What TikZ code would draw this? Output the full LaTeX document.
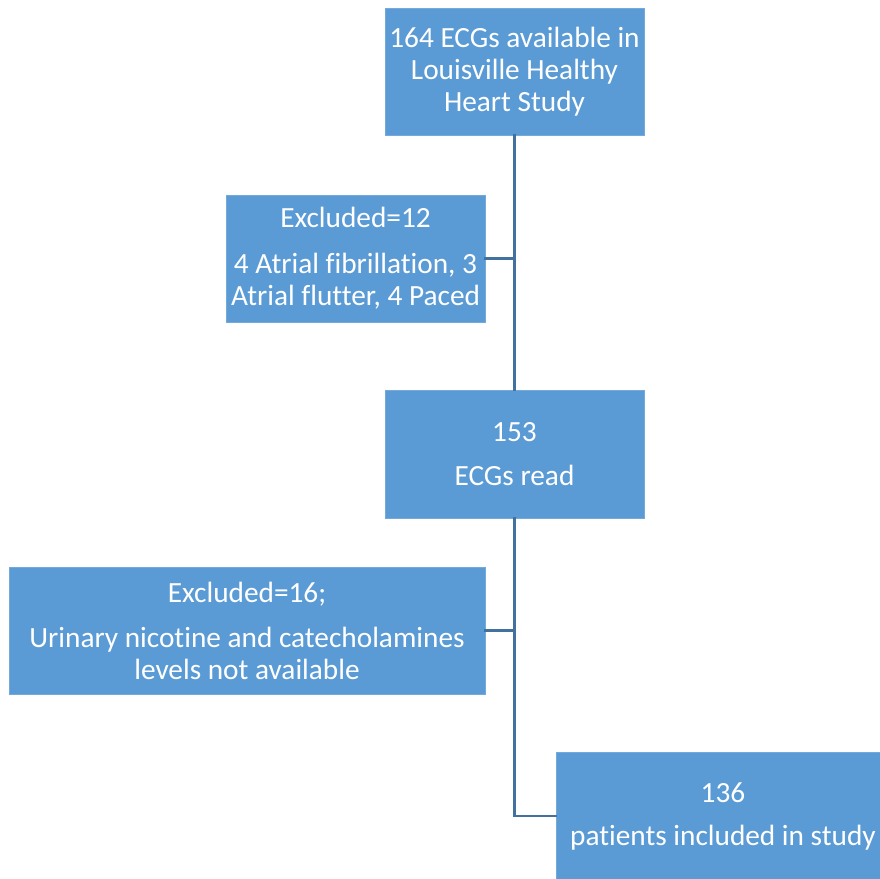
\documentclass[tikz,border=0pt]{standalone}
\usepackage{fontspec}
\setmainfont[Ligatures=NoCommon]{Carlito}
\usepackage{tikz}
\usetikzlibrary{positioning}
\definecolor{boxblue}{HTML}{5B9BD5}
\definecolor{lineblue}{HTML}{41719C}

\begin{document}
\begin{tikzpicture}[x=1pt,y=-1pt,line cap=rect,line join=miter,
    flowbox/.style={fill=boxblue,draw=boxblue!85!white,line width=0.6pt,text=white,
      align=center,inner sep=0pt,font=\fontsize{29.3}{32}\selectfont},
    link/.style={draw=lineblue,line width=2.4pt}]
  \useasboundingbox (0,0) rectangle (880,878);

  \node[flowbox,minimum width=259,minimum height=127] (avail) at (514.5,71.5)
    {164 ECGs available in\\Louisville Healthy\\Heart Study};
  \node[flowbox,minimum width=259,minimum height=127] (exclA) at (355.5,258.5)
    {Excluded=12\\[14pt]4 Atrial fibrillation, 3\\Atrial flutter, 4 Paced};
  \node[flowbox,minimum width=259,minimum height=128] (read) at (514.5,454)
    {153\\[12pt]ECGs read};
  \node[flowbox,minimum width=476,minimum height=127] (exclB) at (247,630.5)
    {Excluded=16;\\[13pt]Urinary nicotine and catecholamines\\levels not available};
  \node[flowbox,minimum width=334,minimum height=128] (final) at (723,816)
    {136\\[11pt]patients included in study};

  \coordinate (spineA) at (avail.south |- exclA.east);
  \coordinate (spineB) at (read.south |- exclB.east);
  \coordinate (corner) at (read.south |- final.west);

  \draw[link] (avail.south) -- (read.north);
  \draw[link] (spineA) -- (exclA.east);
  \draw[link] (read.south) -- (corner) -- (final.west);
  \draw[link] (spineB) -- (exclB.east);
\end{tikzpicture}
\end{document}
